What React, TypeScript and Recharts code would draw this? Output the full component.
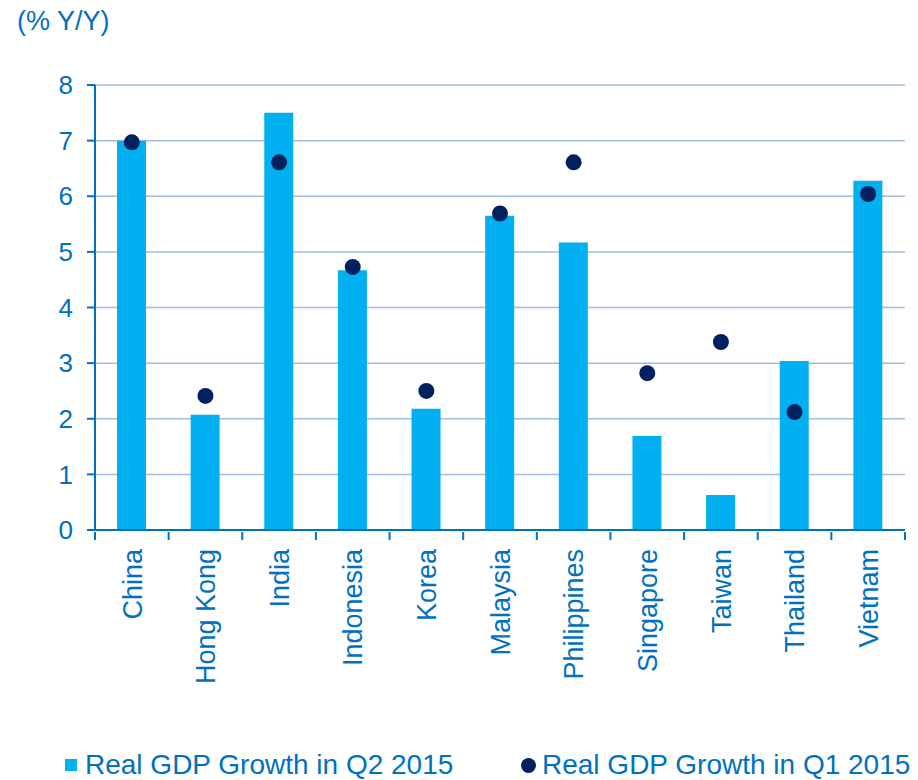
import React from 'react';
import { ComposedChart, Bar, Line, XAxis, YAxis, CartesianGrid, Legend } from 'recharts';

const countries = ['China', 'Hong Kong', 'India', 'Indonesia', 'Korea', 'Malaysia', 'Philippines', 'Singapore', 'Taiwan', 'Thailand', 'Vietnam'];
const gdpQ2 = [7.0, 2.07, 7.5, 4.67, 2.18, 5.65, 5.17, 1.69, 0.63, 3.04, 6.28];
const gdpQ1 = [6.97, 2.41, 6.61, 4.73, 2.5, 5.69, 6.61, 2.82, 3.38, 2.12, 6.04];
const yTicks = [0, 1, 2, 3, 4, 5, 6, 7, 8];

const data = countries.map((c, i) => ({ country: c, q2: gdpQ2[i], q1: gdpQ1[i] }));

const BLUE = '#0070C0';
const BAR = '#00B0F0';
const DOT = '#002060';
const GRID = '#A4BCDD';
const FONT = '"Liberation Sans", Arial, sans-serif';

const XTick = (props: any) => {
  const { x, y, payload, index } = props;
  const off = payload.offset || 0;
  return (
    <g>
      <line x1={x - off} x2={x - off} y1={y - 8} y2={y} stroke={BLUE} strokeWidth={2} />
      {index === countries.length - 1 && (
        <line x1={x + off} x2={x + off} y1={y - 8} y2={y} stroke={BLUE} strokeWidth={2} />
      )}
      <text
        x={x}
        y={y + 9}
        transform={`rotate(-90, ${x}, ${y + 9})`}
        textAnchor="end"
        dy="0.36em"
        fill={BLUE}
        fontSize={27}
        fontFamily={FONT}
      >
        {payload.value}
      </text>
    </g>
  );
};

const itemStyle: React.CSSProperties = {
  position: 'absolute',
  top: 24,
  display: 'flex',
  alignItems: 'center',
  height: 30,
  whiteSpace: 'nowrap',
};

const LegendContent = () => (
  <div style={{ position: 'relative', width: 918, height: 54, fontFamily: FONT, fontSize: 28, color: BLUE, lineHeight: '30px' }}>
    <div style={{ ...itemStyle, left: 65 }}>
      <span style={{ display: 'inline-block', width: 12, height: 12, background: BAR, marginRight: 8 }} />
      <span>Real GDP Growth in Q2 2015</span>
    </div>
    <div style={{ ...itemStyle, left: 521 }}>
      <span style={{ display: 'inline-block', width: 15, height: 15, borderRadius: '50%', background: DOT, marginRight: 6 }} />
      <span>Real GDP Growth in Q1 2015</span>
    </div>
  </div>
);

export default function App() {
  return (
    <div style={{ position: 'absolute', left: 0, top: 0, width: 918, height: 780, background: '#fff', overflow: 'hidden' }}>
      <ComposedChart
        width={918}
        height={780}
        data={data}
        margin={{ top: 85, right: 13, left: 0, bottom: 0 }}
      >
        <CartesianGrid horizontal vertical={false} stroke={GRID} strokeWidth={1.5} />
        <XAxis
          dataKey="country"
          interval={0}
          height={196}
          tick={<XTick />}
          tickLine={false}
          axisLine={{ stroke: BLUE, strokeWidth: 2 }}
          tickSize={8}
        />
        <YAxis
          width={95}
          domain={[0, 8]}
          ticks={yTicks}
          interval={0}
          axisLine={{ stroke: BLUE, strokeWidth: 2 }}
          tickLine={{ stroke: BLUE, strokeWidth: 2 }}
          tickSize={8}
          tickMargin={14}
          tick={{ fill: BLUE, fontSize: 26, fontFamily: FONT }}
          label={{
            content: () => (
              <text x={17} y={30} fill={BLUE} fontSize={27} fontFamily={FONT}>
                (% Y/Y)
              </text>
            ),
          }}
        />
        <Bar dataKey="q2" fill={BAR} barSize={29} isAnimationActive={false} />
        <Line
          dataKey="q1"
          stroke="none"
          strokeWidth={0}
          dot={{ r: 8, fill: DOT, stroke: 'none' }}
          activeDot={false}
          isAnimationActive={false}
        />
        <Legend verticalAlign="bottom" content={<LegendContent />} />
      </ComposedChart>
    </div>
  );
}
